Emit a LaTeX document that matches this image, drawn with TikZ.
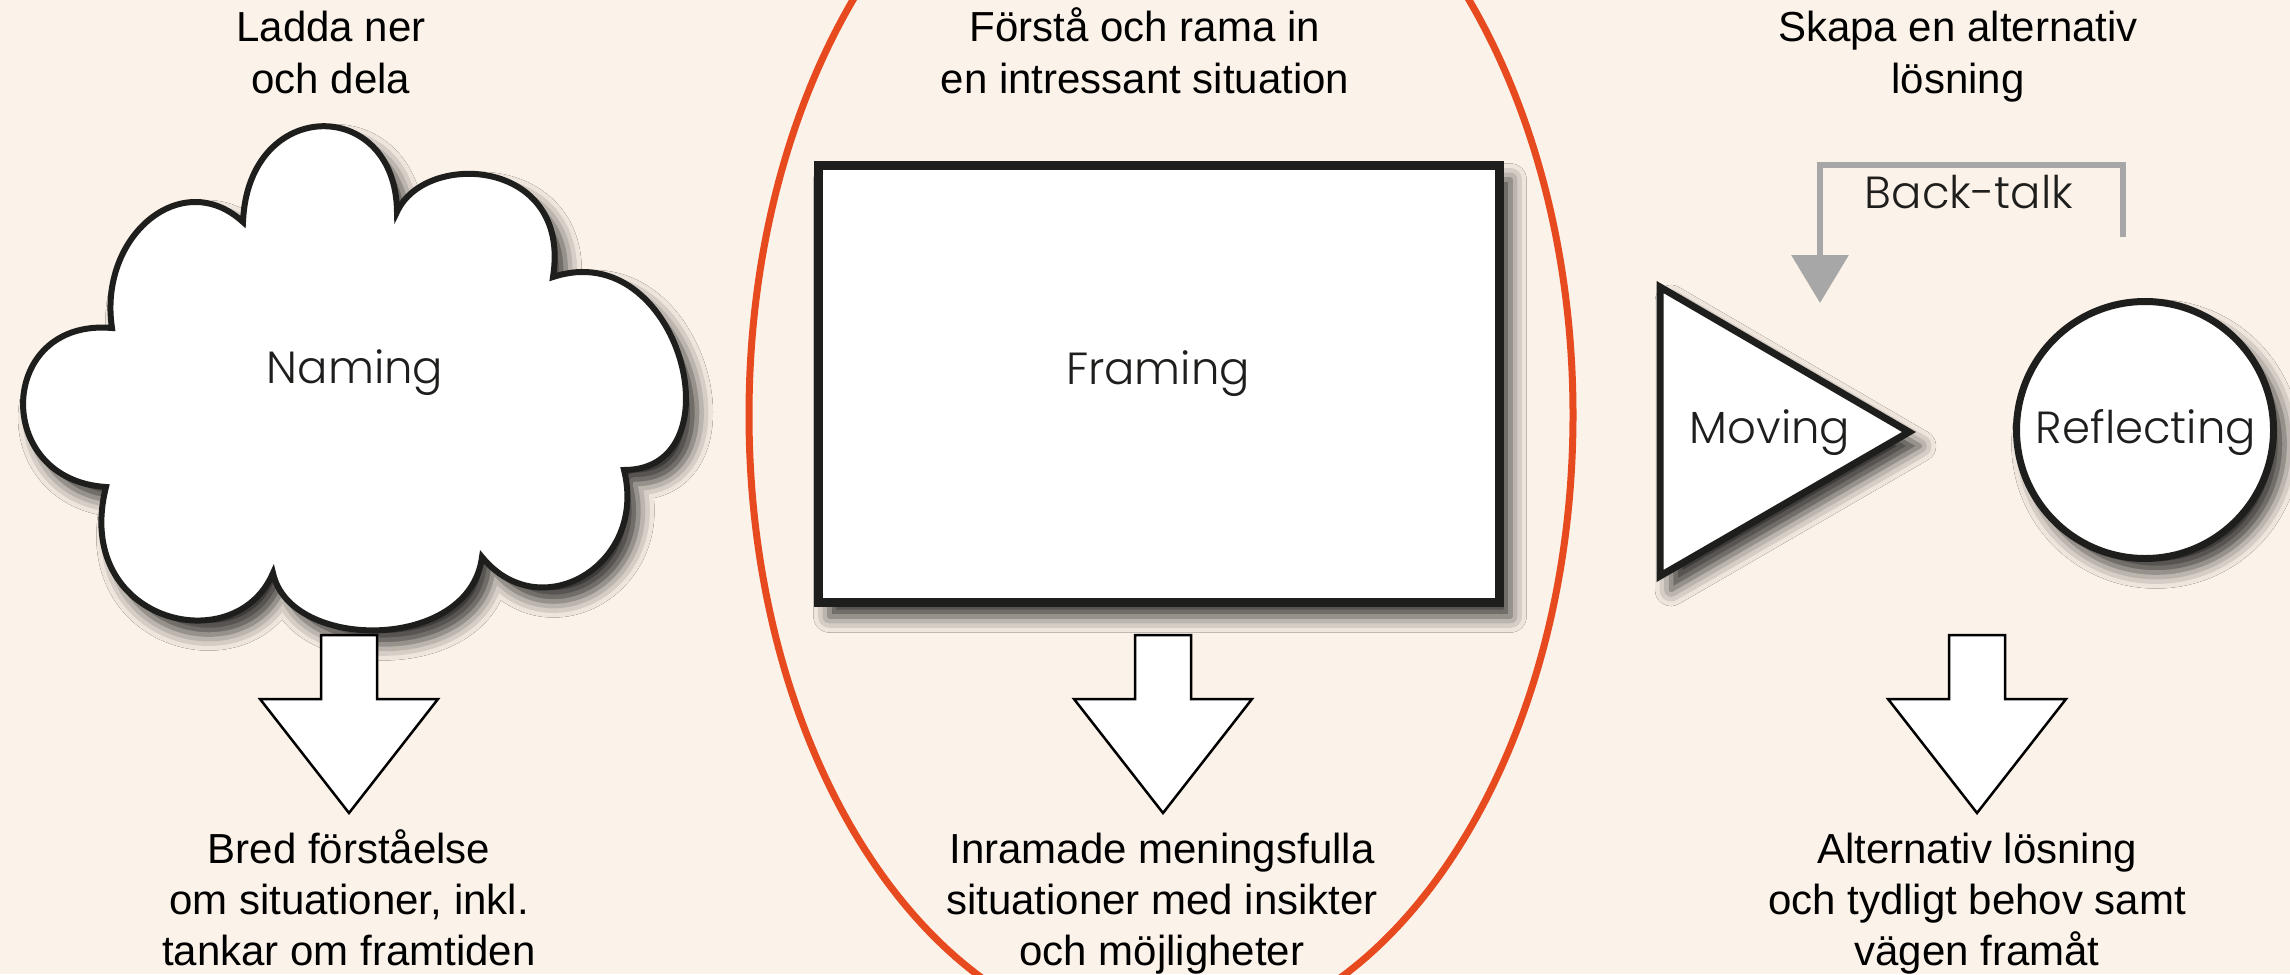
\documentclass[tikz,border=0pt]{standalone}
\usepackage{fontspec}
\setmainfont{Liberation Sans}
\newfontfamily\geofont{Poppins}[UprightFont={* Light}]
\usetikzlibrary{shadows.blur,arrows.meta}
\definecolor{bgc}{HTML}{FBF2E9}
\definecolor{redc}{HTML}{E64A1E}
\definecolor{grayc}{HTML}{A7A7A7}
\definecolor{inkc}{HTML}{1E1E1C}
\tikzset{
  caption/.style={font=\fontsize{42}{51}\selectfont, inner sep=0pt, anchor=base, text=black},
  shapelabel/.style={font=\geofont\fontsize{45}{54}\selectfont, inner sep=0pt, anchor=base, text=inkc},
  heavy/.style={draw=inkc, fill=white, line join=miter},
  shadowed/.style={blur shadow={shadow xshift=11pt, shadow yshift=-14pt, shadow blur radius=16pt, shadow opacity=80}},
  blockarrow/.style={draw=black, fill=white, line width=2.5pt, line join=miter},
  backtalk/.style={draw=grayc, line width=6.5pt, line join=miter, -{Triangle[width=56pt,length=48pt]}},
}
\newcommand{\blockdown}[1]{%
  \draw[blockarrow, shift={(#1,0)}] (-28,635) -- (28,635) -- (28,699) -- (89,699) -- (0,813) -- (-89,699) -- (-28,699) -- cycle;}
\begin{document}
\begin{tikzpicture}[x=1pt,y=-1pt]
\useasboundingbox (0,0) rectangle (2290,974);
\clip (0,0) rectangle (2290,974);
\fill[bgc] (0,0) rectangle (2290,974);

% red ellipse
\draw[redc, line width=7pt] (1161,415) ellipse [x radius=412, y radius=625];

% cloud
\path[heavy, shadowed, line width=6pt]
  (243,222) .. controls (248,96) and (396,96) .. (397,212)
  .. controls (425,150) and (572,158) .. (553,277)
  .. controls (680,235) and (740,470) .. (624,470)
  .. controls (648,565) and (540,628) .. (482,557)
  .. controls (470,652) and (290,652) .. (273,573)
  .. controls (235,662) and (72,622) .. (106,487)
  .. controls (-8,480) and (-3,318) .. (112,328)
  .. controls (98,236) and (182,166) .. (243,222) -- cycle;
\node[shapelabel] (naming) at (355,383) {Naming};

% framing rectangle
\node[heavy, shadowed, line width=9pt, rectangle, minimum width=681pt, minimum height=437pt, inner sep=0pt] (framebox) at (1159,384) {};
\node[shapelabel] (framing) at (1158,384) {Framing};

% moving triangle
\path[heavy, shadowed, line width=7pt] (1660,287) -- (1909,432) -- (1660,576) -- cycle;
\node[shapelabel] (moving) at (1770,443) {Moving};

% reflecting circle
\node[heavy, shadowed, line width=7pt, circle, minimum size=257pt, inner sep=0pt] (reflectcircle) at (2145,430) {};
\node[shapelabel] (reflecting) at (2146,443) {Reflecting};

% back-talk
\coordinate (btstart) at (2123,237);
\coordinate (btend) at (1820,303);
\draw[backtalk] (btstart) -- (2123,165) -- (1820,165) -- (btend);
\node[shapelabel] (backtalklabel) at (1969,208) {Back-talk};

% down arrows
\blockdown{349}
\blockdown{1163}
\blockdown{1977}

% top captions
\node[caption] (ta1) at (331,42) {Ladda ner};
\node[caption] (ta2) at (331,93) {och dela};
\node[caption] (tb1) at (1145,42) {Förstå och rama in};
\node[caption] (tb2) at (1145,93) {en intressant situation};
\node[caption] (tc1) at (1958,42) {Skapa en alternativ};
\node[caption] (tc2) at (1958,93) {lösning};

% bottom captions
\node[caption] (ba1) at (349,863) {Bred förståelse};
\node[caption] (ba2) at (349,914) {om situationer, inkl.};
\node[caption] (ba3) at (349,965) {tankar om framtiden};
\node[caption] (bb1) at (1162,863) {Inramade meningsfulla};
\node[caption] (bb2) at (1162,914) {situationer med insikter};
\node[caption] (bb3) at (1162,965) {och möjligheter};
\node[caption] (bc1) at (1977,863) {Alternativ lösning};
\node[caption] (bc2) at (1977,914) {och tydligt behov samt};
\node[caption] (bc3) at (1977,965) {vägen framåt};
\end{tikzpicture}
\end{document}
